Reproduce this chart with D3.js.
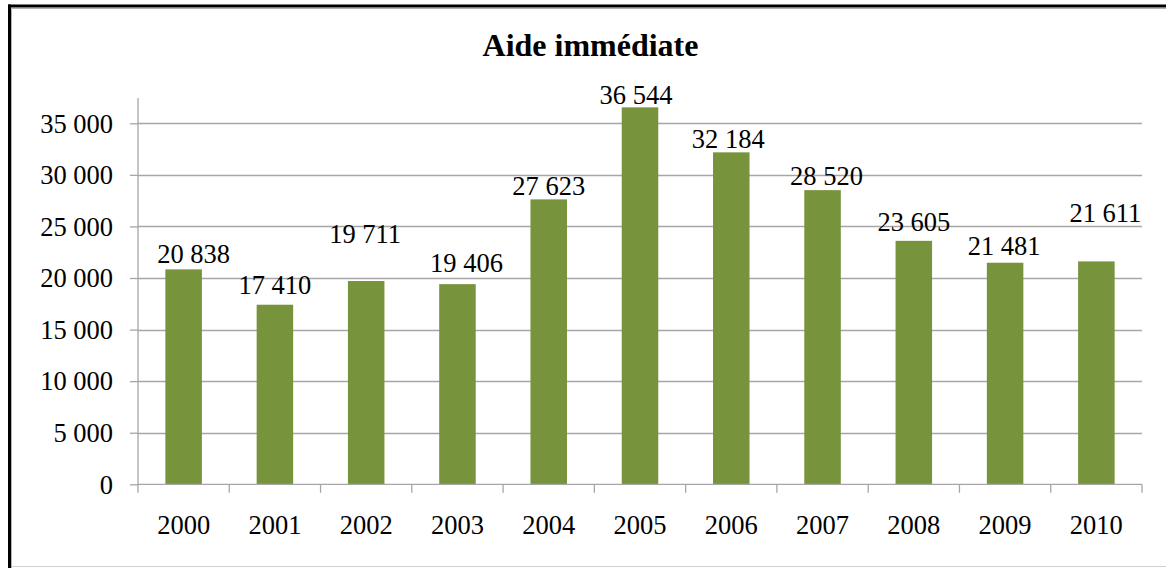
<!DOCTYPE html>
<html>
<head>
<meta charset="utf-8">
<script src="https://cdn.jsdelivr.net/npm/d3@7"></script>
<style>
  html, body { margin: 0; padding: 0; background: #fff; }
  svg { display: block; }
  text { font-family: "Liberation Serif", "Times New Roman", serif; fill: #000; }
</style>
</head>
<body>
<svg id="chart" width="1166" height="568"></svg>
<script>
// ---- data ----
const title = "Aide immédiate";
const years = ["2000","2001","2002","2003","2004","2005","2006","2007","2008","2009","2010"];
const values = [20838, 17410, 19711, 19406, 27623, 36544, 32184, 28520, 23605, 21481, 21611];
const yTicks = [0, 5000, 10000, 15000, 20000, 25000, 30000, 35000];
// label nudges (pixels) as placed in the original
const labelDx = [10, 0, -1, 9, 0, -4, -3, 4, 0, -1, 9];
const labelGap = [6, 11, 38, 12, 4, 3, 4, 5, 10, 8, 39];

const fmt = v => d3.format(",")(v).replace(/,/g, "\u00a0");

const svg = d3.select("#chart");
const W = 1166, H = 568;
const plot = { left: 138, right: 1142, top: 98, bottom: 484.3 };

// frame
svg.append("rect").attr("x", 0).attr("y", 0).attr("width", W).attr("height", H).attr("fill", "#fff");
svg.append("line").attr("x1", 11.5).attr("x2", W).attr("y1", 8.5).attr("y2", 8.5).attr("stroke", "#b0b0b0").attr("stroke-width", 1);
svg.append("line").attr("x1", 11.5).attr("x2", 11.5).attr("y1", 8.5).attr("y2", H).attr("stroke", "#b0b0b0").attr("stroke-width", 1);
svg.append("line").attr("x1", 11.5).attr("x2", W).attr("y1", 566.5).attr("y2", 566.5).attr("stroke", "#d0d0d0").attr("stroke-width", 1);
svg.append("line").attr("x1", 8).attr("x2", W).attr("y1", 6).attr("y2", 6).attr("stroke", "#000").attr("stroke-width", 3);
svg.append("line").attr("x1", 9.5).attr("x2", 9.5).attr("y1", 4.5).attr("y2", H).attr("stroke", "#000").attr("stroke-width", 3);

// scales
const x = d3.scaleBand().domain(years).range([plot.left, plot.right]).paddingInner(0.6).paddingOuter(0.3);
const xOuter = d3.scaleBand().domain(years).range([plot.left, plot.right]);
const y = d3.scaleLinear().domain([0, 35000]).range([plot.bottom, 123.3]);

const gridColor = "#a6a6a6";

// gridlines
svg.append("g").selectAll("line").data(yTicks.filter(t => t > 0)).join("line")
  .attr("x1", plot.left).attr("x2", plot.right)
  .attr("y1", d => Math.round(y(d)) + 0.5).attr("y2", d => Math.round(y(d)) + 0.5)
  .attr("stroke", gridColor).attr("stroke-width", 1.3);

// bars
svg.append("g").selectAll("rect").data(values).join("rect")
  .attr("x", (d, i) => x(years[i]))
  .attr("width", x.bandwidth())
  .attr("y", d => y(d))
  .attr("height", d => y(0) - y(d))
  .attr("fill", "#77933C");

// y axis
const yAxis = d3.axisLeft(y).tickValues(yTicks).tickSize(8).tickPadding(17).tickFormat(fmt);
const gy = svg.append("g").attr("transform", `translate(${plot.left},0)`).call(yAxis);
gy.select(".domain").remove();
gy.selectAll(".tick line").attr("stroke", gridColor).attr("stroke-width", 1.3);
gy.selectAll(".tick text").attr("font-size", "26.5px").attr("dy", "0.33em")
  .style("font-family", "'Liberation Serif', serif");
svg.append("line").attr("x1", plot.left).attr("x2", plot.left).attr("y1", plot.top).attr("y2", plot.bottom)
  .attr("stroke", gridColor).attr("stroke-width", 1.3);

// x axis
const xAxis = d3.axisBottom(xOuter).tickSize(0).tickPadding(0);
const gx = svg.append("g").attr("transform", `translate(0,${plot.bottom})`).call(xAxis);
gx.select(".domain").remove();
gx.selectAll(".tick text").attr("font-size", "26.5px").attr("y", 49.5).attr("dy", 0)
  .style("font-family", "'Liberation Serif', serif");
svg.append("line").attr("x1", plot.left).attr("x2", plot.right).attr("y1", plot.bottom).attr("y2", plot.bottom)
  .attr("stroke", gridColor).attr("stroke-width", 1.3);
// category boundary ticks
const bounds = years.map(d => xOuter(d)).concat([plot.right]);
svg.append("g").selectAll("line").data(bounds).join("line")
  .attr("x1", d => d).attr("x2", d => d)
  .attr("y1", plot.bottom).attr("y2", plot.bottom + 8.5)
  .attr("stroke", gridColor).attr("stroke-width", 1.3);

// data labels
svg.append("g").selectAll("text").data(values).join("text")
  .attr("x", (d, i) => x(years[i]) + x.bandwidth() / 2 + labelDx[i])
  .attr("y", (d, i) => y(d) - labelGap[i])
  .attr("text-anchor", "middle")
  .attr("font-size", "26.5px")
  .text(d => fmt(d));

// title
svg.append("text").attr("x", 590.5).attr("y", 56).attr("text-anchor", "middle")
  .attr("font-size", "32px").attr("font-weight", "bold").text(title);
</script>
</body>
</html>
